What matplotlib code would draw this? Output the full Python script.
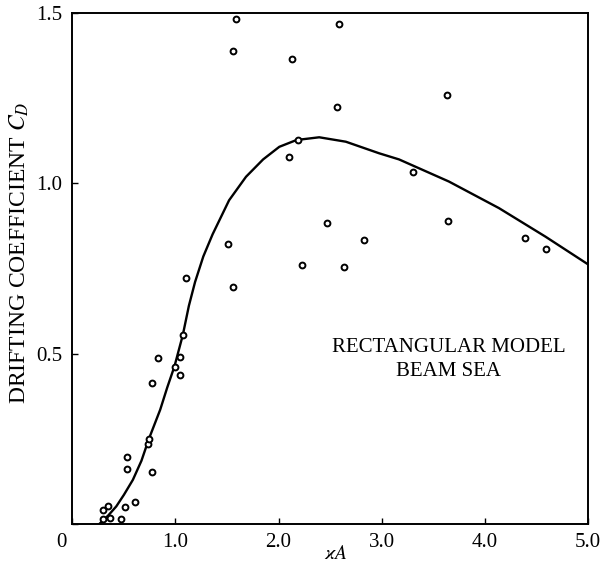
import matplotlib
matplotlib.use("Agg")
import matplotlib.pyplot as plt

plt.rcParams['font.family'] = ['Liberation Serif', 'DejaVu Serif']
plt.rcParams['mathtext.fontset'] = 'stix'

# measured drift coefficients
ka_meas = [0.296, 0.300, 0.345, 0.364, 0.468, 0.509, 0.526, 0.532, 0.606,
           0.736, 0.742, 0.768, 0.768, 0.829, 0.997, 1.042, 1.048, 1.071,
           1.100, 1.513, 1.555, 1.557, 1.586, 2.101, 2.130, 2.184, 2.227,
           2.468, 2.565, 2.590, 2.635, 2.828, 3.308, 3.630, 3.639, 4.385,
           4.592]
cd_meas = [0.014, 0.039, 0.051, 0.018, 0.013, 0.050, 0.195, 0.160, 0.063,
           0.234, 0.249, 0.151, 0.412, 0.487, 0.460, 0.491, 0.438, 0.554,
           0.721, 0.821, 0.695, 1.387, 1.482, 1.078, 1.364, 1.127, 0.760,
           0.883, 1.223, 1.468, 0.755, 0.834, 1.034, 1.260, 0.888, 0.839,
           0.807]

# calculated curve
ka_calc = [0.264, 0.350, 0.426, 0.500, 0.587, 0.670, 0.742, 0.852, 0.920,
           0.990, 1.071, 1.130, 1.190, 1.270, 1.360, 1.520, 1.684, 1.850,
           2.007, 2.174, 2.394, 2.652, 2.975, 3.168, 3.652, 4.137, 4.589,
           5.000]
cd_calc = [0.000, 0.025, 0.051, 0.085, 0.129, 0.185, 0.249, 0.335, 0.400,
           0.462, 0.554, 0.640, 0.710, 0.785, 0.850, 0.950, 1.019, 1.070,
           1.107, 1.127, 1.135, 1.122, 1.088, 1.070, 1.005, 0.927, 0.843,
           0.762]

xticks = [0, 1, 2, 3, 4, 5]
xlabels = ['0 ', '1.0', '2.0', '3.0', '4.0', '5.0']
yticks = [0, 0.5, 1.0, 1.5]
ylabels = ['', '0.5', '1.0', '1.5']

fig = plt.figure(figsize=(6.08, 5.65), dpi=100)
ax = fig.add_axes([0.119, 0.073, 0.848, 0.904])

ax.plot(ka_calc, cd_calc, color='black', lw=1.7)
ax.plot(ka_meas, cd_meas, 'o', ms=4.2, mfc='white', mec='black', mew=1.4)

ax.set_xlim(0, 5)
ax.set_ylim(0, 1.5)
ax.set_xticks(xticks)
ax.set_xticklabels(xlabels, fontsize=15)
ax.set_yticks(yticks)
ax.set_yticklabels(ylabels, fontsize=15)
ax.get_xticklabels()[0].set_horizontalalignment('right')
ax.tick_params(direction='in', length=4, width=1, pad=7)
for s in ax.spines.values():
    s.set_linewidth(1.4)

ax.set_ylabel('DRIFTING COEFFICIENT $C_D$', fontsize=17)
ax.yaxis.set_label_coords(-0.08, 0.53)
ax.text(2.56, -0.088, r'$\varkappa A$', fontsize=14, ha='center', va='center')

ax.text(3.65, 0.517, 'RECTANGULAR MODEL', fontsize=15, ha='center', va='center')
ax.text(3.65, 0.446, 'BEAM SEA', fontsize=15, ha='center', va='center')

fig.savefig('out.png', dpi=100)
